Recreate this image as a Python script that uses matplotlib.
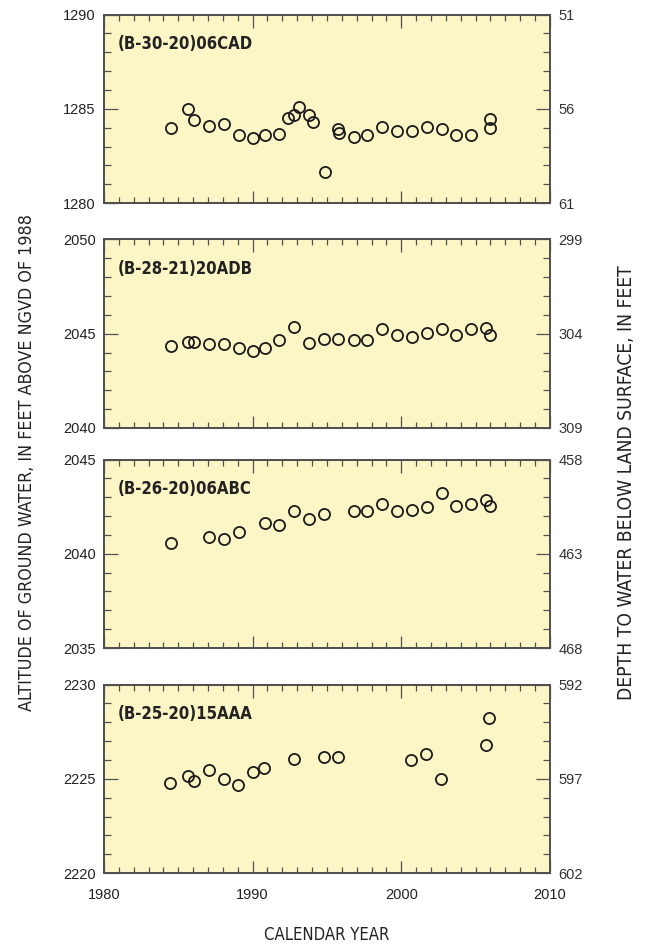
import matplotlib
matplotlib.use('Agg')
import matplotlib.pyplot as plt
from matplotlib.ticker import MultipleLocator, FixedLocator
import numpy as np

plt.rcParams['font.family'] = ['Liberation Sans', 'DejaVu Sans']

# dati
well_names = ['(B-30-20)06CAD', '(B-28-21)20ADB', '(B-26-20)06ABC', '(B-25-20)15AAA']

yr1 = [1984.5, 1985.65, 1986.07, 1987.08, 1988.09, 1989.05, 1990.03, 1990.8, 1991.8,
       1992.36, 1992.8, 1993.12, 1993.81, 1994.04, 1994.87, 1995.76, 1995.81, 1996.79,
       1997.71, 1998.71, 1999.74, 2000.7, 2001.71, 2002.72, 2003.7, 2004.69, 2005.94, 2005.94]
alt1 = [1283.96, 1285.01, 1284.39, 1284.09, 1284.19, 1283.61, 1283.43, 1283.61, 1283.68,
        1284.51, 1284.67, 1285.12, 1284.67, 1284.32, 1281.66, 1283.93, 1283.72, 1283.50,
        1283.61, 1284.02, 1283.84, 1283.82, 1284.02, 1283.91, 1283.59, 1283.61, 1284.44, 1283.98]

yr2 = [1984.48, 1985.65, 1986.07, 1987.08, 1988.09, 1989.05, 1990.05, 1990.8, 1991.8,
       1992.8, 1993.81, 1994.83, 1995.77, 1996.79, 1997.71, 1998.71, 1999.74, 2000.7,
       2001.71, 2002.72, 2003.7, 2004.69, 2005.7, 2005.94]
alt2 = [2044.35, 2044.54, 2044.54, 2044.47, 2044.47, 2044.26, 2044.07, 2044.26, 2044.67,
        2045.35, 2044.52, 2044.74, 2044.74, 2044.65, 2044.65, 2045.25, 2044.95, 2044.82,
        2045.05, 2045.25, 2044.95, 2045.25, 2045.28, 2044.95]

yr3 = [1984.53, 1987.08, 1988.09, 1989.05, 1990.8, 1991.8, 1992.8, 1993.81, 1994.83,
       1996.79, 1997.71, 1998.71, 1999.74, 2000.7, 2001.71, 2002.72, 2003.7, 2004.69,
       2005.7, 2005.94]
alt3 = [2040.56, 2040.87, 2040.77, 2041.17, 2041.63, 2041.53, 2042.25, 2041.86, 2042.11,
        2042.25, 2042.25, 2042.64, 2042.25, 2042.35, 2042.46, 2043.25, 2042.53, 2042.64,
        2042.85, 2042.53]

yr4 = [1984.46, 1985.65, 1986.05, 1987.04, 1988.07, 1989.0, 1990.03, 1990.77, 1992.78,
       1994.8, 1995.77, 2000.68, 2001.69, 2002.7, 2005.68, 2005.93]
alt4 = [2224.76, 2225.17, 2224.87, 2225.47, 2224.97, 2224.66, 2225.38, 2225.57, 2226.05,
        2226.16, 2226.16, 2225.98, 2226.33, 2224.97, 2226.81, 2228.22]

anni = [yr1, yr2, yr3, yr4]
alt = [alt1, alt2, alt3, alt4]
alt_min = [1280, 2040, 2035, 2220]
prof_top = [51, 299, 458, 592]   # profondita' in cima all'asse

fig = plt.figure(figsize=(6.5, 9.47), dpi=100)
bottoms = [0.7856, 0.5481, 0.3157, 0.0781]
hgt = 0.1990
frame = '#505050'
sfondo = '#fcf6c6'
cond = dict(family='DejaVu Sans', fontstretch='condensed')

for i in range(4):
    ax = fig.add_axes([0.16, bottoms[i], 0.686, hgt])
    ax.set_facecolor(sfondo)
    ax.plot(anni[i], alt[i], 'o', mfc='none', mec='#1a1a1a', mew=1.3, ms=8)
    ax.set_xlim(1980, 2010)
    ax.set_ylim(alt_min[i], alt_min[i] + 10)
    ax.xaxis.set_major_locator(MultipleLocator(10))
    ax.xaxis.set_minor_locator(MultipleLocator(1))
    ax.yaxis.set_major_locator(MultipleLocator(5))
    ax.yaxis.set_minor_locator(MultipleLocator(1))
    ax.tick_params(which='both', direction='in', top=True, color=frame, width=0.9)
    ax.tick_params(which='major', axis='y', length=10)
    ax.tick_params(which='minor', axis='y', length=5)
    ax.tick_params(which='major', axis='x', length=9)
    ax.tick_params(which='minor', axis='x', length=4.5)
    ax.tick_params(axis='y', labelsize=10.5, pad=6, labelcolor='#222222')
    ax.tick_params(axis='x', labelsize=10.5, pad=11, labelcolor='#222222')
    for s in ax.spines.values():
        s.set_color(frame)
        s.set_linewidth(1.3)
    if i < 3:
        ax.tick_params(axis='x', labelbottom=False)
    ax.text(0.03, 0.89, well_names[i], transform=ax.transAxes, ha='left', va='top',
            fontsize=12, fontweight='bold', color='#222222', **cond)

    # asse destro: profondita' (invertita)
    ax2 = ax.twinx()
    ax2.set_ylim(prof_top[i] + 10, prof_top[i])
    ax2.yaxis.set_major_locator(FixedLocator([prof_top[i], prof_top[i] + 5, prof_top[i] + 10]))
    ax2.yaxis.set_minor_locator(MultipleLocator(1))
    ax2.tick_params(which='both', direction='in', color=frame, width=0.9)
    ax2.tick_params(which='major', length=10)
    ax2.tick_params(which='minor', length=5)
    ax2.tick_params(labelsize=10.5, pad=6, labelcolor='#333333')
    for s in ax2.spines.values():
        s.set_color(frame)
        s.set_linewidth(1.3)

fig.text(0.042, 0.512, 'ALTITUDE OF GROUND WATER, IN FEET ABOVE NGVD OF 1988', rotation=90,
         ha='center', va='center', fontsize=12.8, color='#222222', **cond)
fig.text(0.964, 0.49, 'DEPTH TO WATER BELOW LAND SURFACE, IN FEET', rotation=90,
         ha='center', va='center', fontsize=13.8, color='#222222', **cond)
fig.text(0.503, 0.013, 'CALENDAR YEAR', ha='center', va='center', fontsize=12,
         color='#222222', **cond)

fig.savefig('out.png', dpi=100, facecolor='white')
